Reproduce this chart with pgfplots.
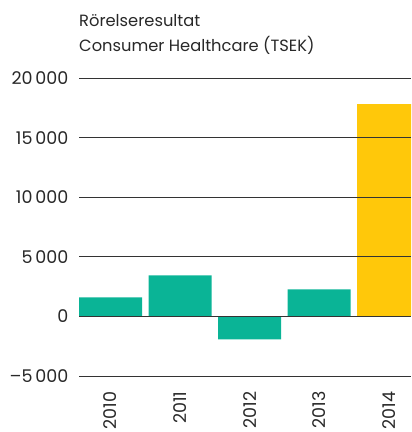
\documentclass[border=0pt]{standalone}
\usepackage{fontspec}
\setmainfont{Poppins}
\usepackage{pgfplots}
\pgfplotsset{compat=1.18}
\usetikzlibrary{calc}
\definecolor{mygreen}{RGB}{10,180,150}
\definecolor{myyellow}{RGB}{255,200,10}
\definecolor{txt}{RGB}{40,40,40}
\begin{document}
\begin{tikzpicture}
\begin{axis}[
  name=ax,
  scale only axis, width=332pt, height=298pt,
  xmin=-0.453, xmax=4.32, ymin=-5000, ymax=20000,
  axis line style={draw=none},
  major tick length=0pt,
  scaled y ticks=false,
  ytick={-5000,0,5000,10000,15000,20000},
  yticklabels={\textendash5\,000,0,5\,000,10\,000,15\,000,20\,000},
  xtick={0,1,2,3,4}, xticklabels={2010,2011,2012,2013,2014},
  tick label style={font=\fontsize{17.5}{17.5}\selectfont, text=txt},
  x tick label style={rotate=90, anchor=east},
  xticklabel shift=12pt,
  y tick label style={xshift=-7pt},
  ymajorgrids, grid style={black!80, line width=0.6pt},
  axis on top,
  bar width=0.906,
]
\addplot[ybar, bar shift=0, fill=mygreen, draw=none] coordinates {(0,1600) (1,3450) (2,-1930) (3,2270)};
\addplot[ybar, bar shift=0, fill=myyellow, draw=none] coordinates {(4,17800)};
\end{axis}
\node[anchor=base west, text=txt, font=\fontsize{16.3}{16.3}\selectfont, inner sep=0pt] at ($(ax.north west)+(0,51.5pt)$) {Rörelseresultat};
\node[anchor=base west, text=txt, font=\fontsize{16.3}{16.3}\selectfont, inner sep=0pt] at ($(ax.north west)+(0,26pt)$) {Consumer Healthcare (TSEK)};
\pgfresetboundingbox
\path ($(ax.south west)+(-79pt,-56pt)$) rectangle ($(ax.north east)+(0pt,78pt)$);
\end{tikzpicture}
\end{document}
